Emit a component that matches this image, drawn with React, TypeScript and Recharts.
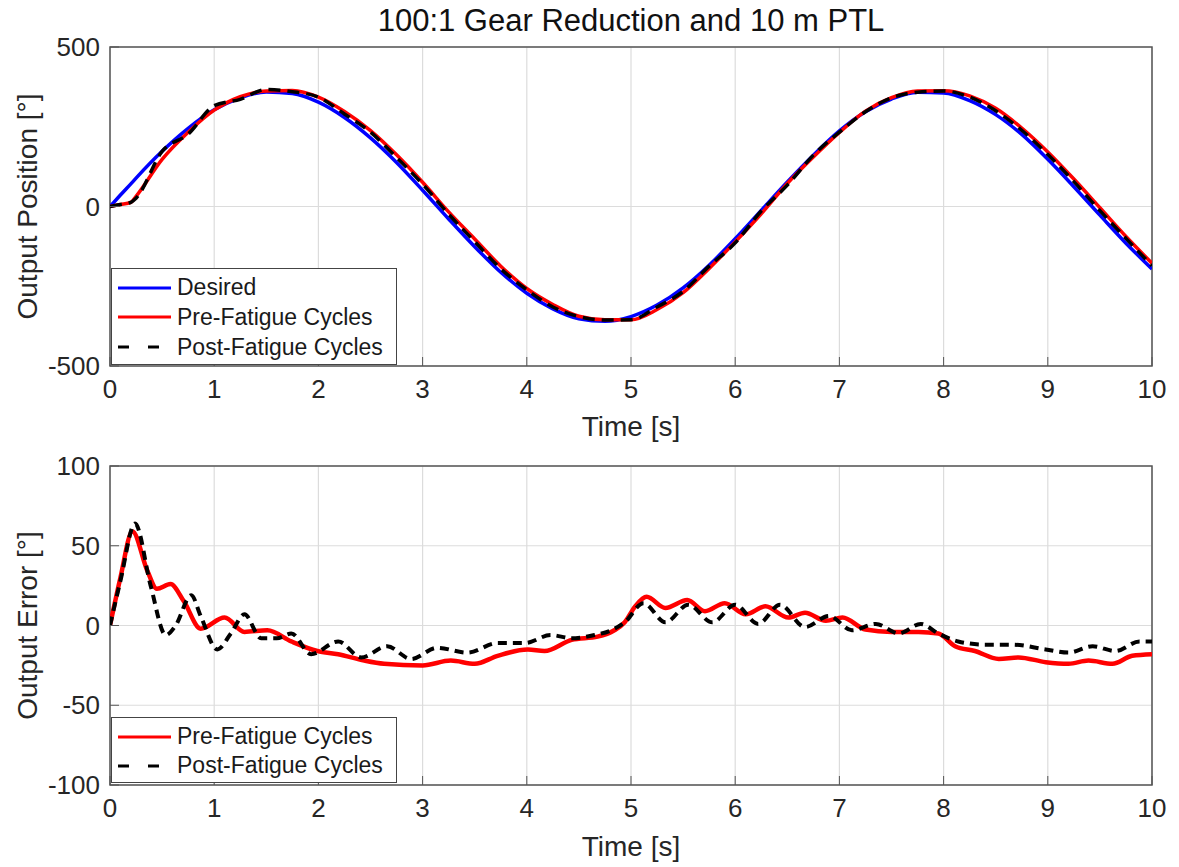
import React from 'react'
import {
  LineChart,
  Line,
  XAxis,
  YAxis,
  CartesianGrid,
  ReferenceArea,
} from 'recharts'

const FONT = '"Liberation Sans", Arial, Helvetica, sans-serif'

// top plot: output position [deg] vs time [s]
const posT = [
  0, 0.1, 0.2, 0.25, 0.5, 0.75, 1, 1.25, 1.5, 1.75, 2, 2.25, 2.5, 2.75, 3, 3.25, 3.5, 3.75, 4,
  4.25, 4.5, 4.75, 5, 5.25, 5.5, 5.75, 6, 6.25, 6.5, 6.75, 7, 7.25, 7.5, 7.75, 8, 8.25, 8.5,
  8.75, 9, 9.25, 9.5, 9.75, 10,
]
const desired = [
  0, 36, 71, 89, 173, 245, 303, 341, 359, 354, 327, 279, 215, 138, 51, -39, -126, -206, -272,
  -321, -352, -360, -345, -309, -255, -184, -101, -12, 77, 161, 237, 297, 337, 358, 356, 332,
  288, 226, 148, 62, -27, -115, -196,
]
const prePos = [
  0, 6, 13, 32, 148, 233, 302, 344, 362, 364, 343, 298, 238, 162, 76, -17, -102, -187, -257,
  -307, -344, -355, -355, -323, -270, -194, -111, -23, 72, 155, 232, 299, 341, 362, 363, 347,
  308, 246, 171, 86, -4, -94, -178,
]
const postPos = [
  0, 6, 13, 26, 173, 227, 316, 336, 367, 360, 343, 290, 233, 154, 70, -24, -110, -195, -261,
  -315, -345, -356, -355, -315, -266, -187, -114, -14, 67, 161, 233, 297, 341, 358, 362, 343,
  300, 239, 163, 78, -13, -100, -186,
]

// bottom plot: output error [deg]
const errPreT = [
  0, 0.1, 0.215, 0.36, 0.45, 0.58, 0.71, 0.87, 1.1, 1.29, 1.51, 1.74, 1.99, 2.19, 2.44, 2.63,
  3.0, 3.27, 3.5, 3.72, 4.01, 4.17, 4.43, 4.68, 4.84, 4.94, 5.04, 5.15, 5.33, 5.54, 5.71, 5.9,
  6.1, 6.29, 6.51, 6.67, 6.87, 7.03, 7.25, 7.5, 7.76, 7.95, 8.11, 8.3, 8.53, 8.72, 8.98, 9.2,
  9.39, 9.62, 9.81, 10,
]
const errPre = [
  0, 30, 59, 34, 23, 26, 15, -2, 5, -4, -3, -10, -16, -18, -22, -24, -25, -22, -24, -19, -15,
  -16, -9, -7, -3, 2, 12, 18, 11, 16, 9, 14, 7, 12, 5, 8, 3, 5, -2.5, -4, -4, -5, -13, -16, -21,
  -20, -23, -24, -22, -24, -19, -18,
]
const errPostT = [
  0, 0.1, 0.24, 0.39, 0.535, 0.63, 0.78, 0.87, 1.03, 1.16, 1.29, 1.45, 1.6, 1.74, 1.93, 2.19,
  2.41, 2.66, 2.89, 3.14, 3.43, 3.72, 3.98, 4.23, 4.43, 4.65, 4.81, 4.94, 5.12, 5.33, 5.55,
  5.78, 6.0, 6.22, 6.43, 6.67, 6.9, 7.12, 7.35, 7.57, 7.78, 7.95, 8.14, 8.4, 8.66, 8.98, 9.2,
  9.43, 9.65, 9.88, 10,
]
const errPost = [
  0, 28, 64, 25, -6, 0, 19, 6, -15, -5, 7, -8, -8, -5, -18, -10, -20, -13, -21, -14, -17, -11,
  -11, -6, -8, -6, -3, 2, 14, 2, 13, 2, 13, 1, 13, -1, 6, -3, 1, -5, 1, -5, -10, -12, -12, -15,
  -17, -13, -16, -10, -10,
]

const timeTicks = [0, 1, 2, 3, 4, 5, 6, 7, 8, 9, 10]
const posTicks = [-500, 0, 500]
const errTicks = [-100, -50, 0, 50, 100]

const posData = posT.map((t, i) => ({ t, desired: desired[i], pre: prePos[i], post: postPos[i] }))
const errPreData = errPreT.map((t, i) => ({ t, v: errPre[i] }))
const errPostData = errPostT.map((t, i) => ({ t, v: errPost[i] }))

const tickStyle = { fontSize: 26, fill: '#262626', fontFamily: FONT }
const gridColor = '#dcdcdc'
const boxColor = '#555555'

function yLabel(text: string) {
  return {
    content: ({ viewBox }: any) => {
      const cy = viewBox.y + viewBox.height / 2
      return (
        <text
          x={27}
          y={cy}
          transform={`rotate(-90, 27, ${cy})`}
          textAnchor="middle"
          dominantBaseline="central"
          fontSize={28}
          fontFamily={FONT}
          fill="#262626"
        >
          {text}
        </text>
      )
    },
  }
}

type LegendItem = { label: string; color: string; dashed?: boolean }

function LegendBox({ items, left, top, height }: { items: LegendItem[]; left: number; top: number; height: number }) {
  const rowH = (height - 8) / items.length
  return (
    <div
      style={{
        position: 'absolute',
        left,
        top,
        width: 286,
        height,
        boxSizing: 'border-box',
        border: '1.5px solid #444',
        background: '#fff',
        fontFamily: FONT,
        fontSize: 23,
        color: '#1a1a1a',
      }}
    >
      {items.map((it, i) => (
        <div
          key={it.label}
          style={{
            position: 'absolute',
            left: 0,
            top: 4 + i * rowH,
            height: rowH,
            display: 'flex',
            alignItems: 'center',
            whiteSpace: 'nowrap',
          }}
        >
          <svg width={60} height={10} style={{ marginLeft: 5 }}>
            <line
              x1={1}
              y1={5}
              x2={54}
              y2={5}
              stroke={it.color}
              strokeWidth={3}
              strokeDasharray={it.dashed ? '11 19' : undefined}
            />
          </svg>
          <span>{it.label}</span>
        </div>
      ))}
    </div>
  )
}

export default function App() {
  return (
    <div style={{ position: 'absolute', left: 0, top: 0, width: 1179, height: 867, background: '#fff' }}>
      <div
        style={{
          position: 'absolute',
          left: 110,
          top: 5,
          width: 1042,
          textAlign: 'center',
          fontFamily: FONT,
          fontSize: 31,
          lineHeight: '31px',
          color: '#111',
        }}
      >
        100:1 Gear Reduction and 10 m PTL
      </div>

      <div style={{ position: 'absolute', left: 0, top: 440 }}>
        <LineChart width={1179} height={427} margin={{ top: 26, right: 27, bottom: 0, left: 0 }}>
          <CartesianGrid stroke={gridColor} strokeWidth={1.2} />
          <XAxis
            dataKey="t"
            type="number"
            domain={[0, 10]}
            ticks={timeTicks}
            allowDataOverflow
            height={82}
            axisLine={false}
            tickSize={-9}
            tickMargin={23}
            tickLine={{ stroke: boxColor }}
            tick={tickStyle}
            label={{
              value: 'Time [s]',
              position: 'insideBottom',
              offset: 11,
              style: { fontSize: 28, fontFamily: FONT, fill: '#262626' },
            }}
          />
          <YAxis
            type="number"
            domain={[-100, 100]}
            ticks={errTicks}
            allowDataOverflow
            width={110}
            axisLine={false}
            tickSize={-9}
            tickMargin={19}
            tickLine={{ stroke: boxColor }}
            tick={tickStyle}
            label={yLabel('Output Error [°]')}
          />
          <ReferenceArea x1={0} x2={10} y1={-100} y2={100} fill="none" stroke={boxColor} strokeWidth={1.5} ifOverflow="visible" />
          <Line
            data={errPreData}
            type="monotone"
            dataKey="v"
            stroke="#ff0000"
            strokeWidth={4.5}
            dot={false}
            isAnimationActive={false}
          />
          <Line
            data={errPostData}
            type="monotone"
            dataKey="v"
            stroke="#000000"
            strokeWidth={4}
            strokeDasharray="9 6"
            dot={false}
            isAnimationActive={false}
          />
        </LineChart>
      </div>

      <div style={{ position: 'absolute', left: 0, top: 0 }}>
        <LineChart width={1179} height={456} data={posData} margin={{ top: 47, right: 27, bottom: 0, left: 0 }}>
          <CartesianGrid stroke={gridColor} strokeWidth={1.2} />
          <XAxis
            dataKey="t"
            type="number"
            domain={[0, 10]}
            ticks={timeTicks}
            allowDataOverflow
            height={90}
            axisLine={false}
            tickSize={-9}
            tickMargin={23}
            tickLine={{ stroke: boxColor }}
            tick={tickStyle}
            label={{
              value: 'Time [s]',
              position: 'insideBottom',
              offset: 20,
              style: { fontSize: 28, fontFamily: FONT, fill: '#262626' },
            }}
          />
          <YAxis
            type="number"
            domain={[-500, 500]}
            ticks={posTicks}
            allowDataOverflow
            width={110}
            axisLine={false}
            tickSize={-9}
            tickMargin={19}
            tickLine={{ stroke: boxColor }}
            tick={tickStyle}
            label={yLabel('Output Position [°]')}
          />
          <ReferenceArea x1={0} x2={10} y1={-500} y2={500} fill="none" stroke={boxColor} strokeWidth={1.5} ifOverflow="visible" />
          <Line type="monotone" dataKey="desired" stroke="#0000ff" strokeWidth={3.5} dot={false} isAnimationActive={false} />
          <Line type="monotone" dataKey="pre" stroke="#ff0000" strokeWidth={3.5} dot={false} isAnimationActive={false} />
          <Line
            type="monotone"
            dataKey="post"
            stroke="#000000"
            strokeWidth={3.5}
            strokeDasharray="12 7"
            dot={false}
            isAnimationActive={false}
          />
        </LineChart>
      </div>

      <LegendBox
        left={111}
        top={268}
        height={97}
        items={[
          { label: 'Desired', color: '#0000ff' },
          { label: 'Pre-Fatigue Cycles', color: '#ff0000' },
          { label: 'Post-Fatigue Cycles', color: '#000000', dashed: true },
        ]}
      />
      <LegendBox
        left={111}
        top={717}
        height={66}
        items={[
          { label: 'Pre-Fatigue Cycles', color: '#ff0000' },
          { label: 'Post-Fatigue Cycles', color: '#000000', dashed: true },
        ]}
      />
    </div>
  )
}
